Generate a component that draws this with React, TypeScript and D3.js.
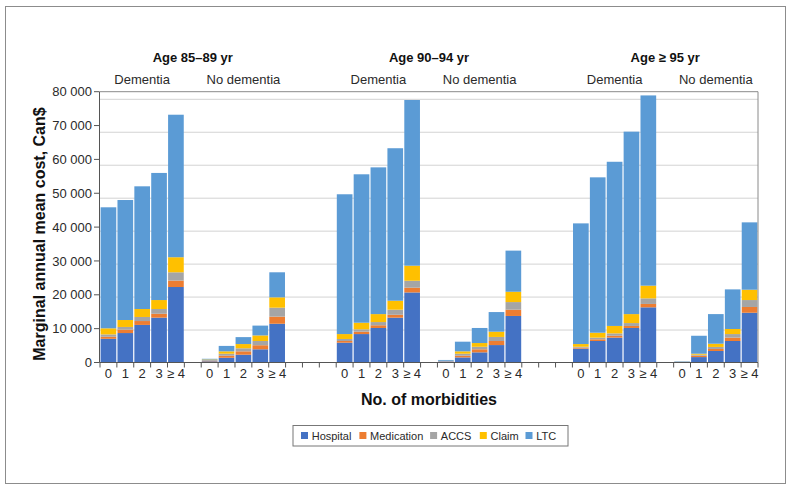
import React from "react";
import * as d3 from "d3";

const ageGroups = ["Age 85–89 yr", "Age 90–94 yr", "Age ≥ 95 yr"];
const dementiaGroups = ["Dementia", "No dementia"];
const morbidityLabels = ["0", "1", "2", "3", "≥ 4"];
const seriesNames = ["Hospital", "Medication", "ACCS", "Claim", "LTC"];
const seriesColors = ["#4472C4", "#ED7D31", "#A5A5A5", "#FFC000", "#5B9BD5"];
const yTicks = [0, 10000, 20000, 30000, 40000, 50000, 60000, 70000, 80000];

// Order: 85–89 Dementia (0..≥4), 85–89 No dementia, 90–94 Dementia, 90–94 No dementia, ≥95 Dementia, ≥95 No dementia
const hospital = [
  7000, 8700, 11100, 13250, 22300,
  350, 1400, 2300, 3900, 11450,
  5850, 8400, 10200, 13250, 20700,
  300, 1500, 3000, 5150, 13750,
  4100, 6350, 7350, 10200, 16300,
  150, 1600, 3400, 6350, 14700,
];
const medication = [
  600, 1000, 1150, 1150, 1900,
  150, 600, 1000, 1200, 2100,
  500, 700, 800, 850, 1400,
  50, 500, 900, 1200, 1850,
  300, 500, 550, 600, 1000,
  20, 400, 600, 1000, 1700,
];
const accs = [
  700, 800, 1200, 1400, 2450,
  250, 600, 900, 1250, 2650,
  600, 700, 950, 1500, 2050,
  100, 600, 750, 1200, 2250,
  250, 500, 700, 850, 1650,
  30, 300, 600, 1050, 2050,
];
const claim = [
  1800, 2050, 2350, 2650, 4450,
  150, 700, 1250, 1650, 3050,
  1450, 1950, 2350, 2650, 4450,
  50, 700, 1100, 1550, 3050,
  800, 1450, 2200, 2650, 3750,
  20, 300, 950, 1500, 3050,
];
const ltc = [
  35750, 35450, 36250, 37550, 42100,
  200, 1600, 2050, 2900, 7400,
  41300, 43850, 43350, 45050, 48950,
  250, 2850, 4450, 5800, 12150,
  35650, 45900, 48500, 53900, 56200,
  130, 5300, 8750, 11700, 19900,
];

const seriesValues = [hospital, medication, accs, claim, ltc];

const W = 791;
const H = 497;
const FONT = "'Liberation Sans', Arial, Helvetica, sans-serif";

type Row = { key: string; [k: string]: number | string };

export default function App() {
  const slots: string[] = [];
  const rows: Row[] = [];
  let idx = 0;
  ageGroups.forEach((a, ai) => {
    dementiaGroups.forEach((d, di) => {
      morbidityLabels.forEach((m) => {
        const key = `${a}|${d}|${m}`;
        slots.push(key);
        const row: Row = { key };
        seriesNames.forEach((s, si) => {
          row[s] = seriesValues[si][idx];
        });
        rows.push(row);
        idx++;
      });
      if (di === 0) slots.push(`blank-${ai}-${di}`);
    });
    if (ai < ageGroups.length - 1) {
      slots.push(`blank-${ai}-a`);
      slots.push(`blank-${ai}-b`);
      slots.push(`blank-${ai}-c`);
    }
  });

  const left = 100;
  const right = 758;
  const top = 91.7;
  const bottom = 362.5;

  const x = d3.scaleBand<string>().domain(slots).range([left, right]).padding(0);
  const y = d3.scaleLinear().domain([0, 80000]).range([bottom, top]);
  const yGrid = d3.scaleLinear().domain([0, 80000]).range([363, 99.3]);

  const stack = d3.stack<Row>().keys(seriesNames).value((r, k) => r[k] as number);
  const stacked = stack(rows);

  const fmt = (v: number) => d3.format(",")(v).replace(/,/g, " ");

  const bw = x.bandwidth();
  const boundaries = d3.range(slots.length + 1).map((i) => left + i * x.step());

  const groupCenter = (a: string, d?: string) => {
    const keys = slots.filter((s) => s.startsWith(d ? `${a}|${d}|` : `${a}|`));
    const x0 = x(keys[0])!;
    const x1 = x(keys[keys.length - 1])! + bw;
    return (x0 + x1) / 2;
  };

  const legendWidths = [37.7, 50, 29, 25, 23];
  const legendX0 = 301;
  const legendXs: number[] = [];
  let lx = legendX0;
  legendWidths.forEach((w) => {
    legendXs.push(lx);
    lx += 10.7 + w + 10;
  });

  return (
    <svg
      width={W}
      height={H}
      style={{ position: "absolute", left: 0, top: 0, background: "#fff" }}
      fontFamily={FONT}
    >
      <rect x={5.5} y={6.5} width={780} height={477} fill="#fff" stroke="#8c8c8c" strokeWidth={1} />

      {yTicks.slice(1).map((t) => (
        <line key={`g${t}`} x1={left} x2={right} y1={yGrid(t)} y2={yGrid(t)} stroke="#d3d3d3" strokeWidth={1} />
      ))}

      {stacked.map((layer, li) => (
        <g key={layer.key} fill={seriesColors[li]}>
          {layer.map((seg, i) => (
            <rect
              key={i}
              x={x(rows[i].key)! + 0.6}
              width={bw - 1.2}
              y={y(seg[1])}
              height={Math.max(0, y(seg[0]) - y(seg[1]))}
            />
          ))}
        </g>
      ))}

      <line x1={left} x2={right} y1={top} y2={top} stroke="#8a8a8a" strokeWidth={1} />
      <line x1={right} x2={right} y1={top} y2={bottom} stroke="#8a8a8a" strokeWidth={1} />

      <line x1={left - 0.5} x2={left - 0.5} y1={top} y2={bottom} stroke="#555" strokeWidth={1} />
      {yTicks.map((t) => (
        <g key={`y${t}`}>
          <line x1={left - 6} x2={left - 0.5} y1={y(t)} y2={y(t)} stroke="#555" strokeWidth={1} />
          <text x={left - 8} y={y(t)} dy="0.35em" textAnchor="end" fontSize={13} fill="#2a2a2a">
            {fmt(t)}
          </text>
        </g>
      ))}

      <line x1={left - 0.5} x2={right} y1={bottom} y2={bottom} stroke="#555" strokeWidth={1} />
      {boundaries.map((bx, i) => (
        <line key={`xt${i}`} x1={bx} x2={bx} y1={bottom} y2={bottom + 5} stroke="#555" strokeWidth={1} />
      ))}
      {rows.map((r) => {
        const m = r.key.split("|")[2];
        return (
          <text key={`xl${r.key}`} x={x(r.key)! + bw / 2} y={378} textAnchor="middle" fontSize={13} fill="#2a2a2a">
            {m}
          </text>
        );
      })}

      {ageGroups.map((a) => (
        <g key={a}>
          <text x={groupCenter(a)} y={62} textAnchor="middle" fontSize={13} fontWeight="bold" fill="#111">
            {a}
          </text>
          {dementiaGroups.map((d) => (
            <text key={d} x={groupCenter(a, d)} y={84} textAnchor="middle" fontSize={13} fill="#2a2a2a">
              {d}
            </text>
          ))}
        </g>
      ))}

      <text
        transform={`translate(45, 234) rotate(-90)`}
        textAnchor="middle"
        fontSize={16}
        fontWeight="bold"
        fill="#111"
      >
        Marginal annual mean cost, Can$
      </text>
      <text x={(left + right) / 2} y={405} textAnchor="middle" fontSize={16} fontWeight="bold" fill="#111">
        No. of morbidities
      </text>

      <rect x={293} y={425.5} width={275} height={20.5} fill="#fff" stroke="#777" strokeWidth={1} />
      {seriesNames.map((s, i) => (
        <g key={s}>
          <rect x={legendXs[i]} y={432} width={7} height={7} fill={seriesColors[i]} />
          <text x={legendXs[i] + 10.7} y={439.5} fontSize={11} fill="#2a2a2a">
            {s}
          </text>
        </g>
      ))}
    </svg>
  );
}
